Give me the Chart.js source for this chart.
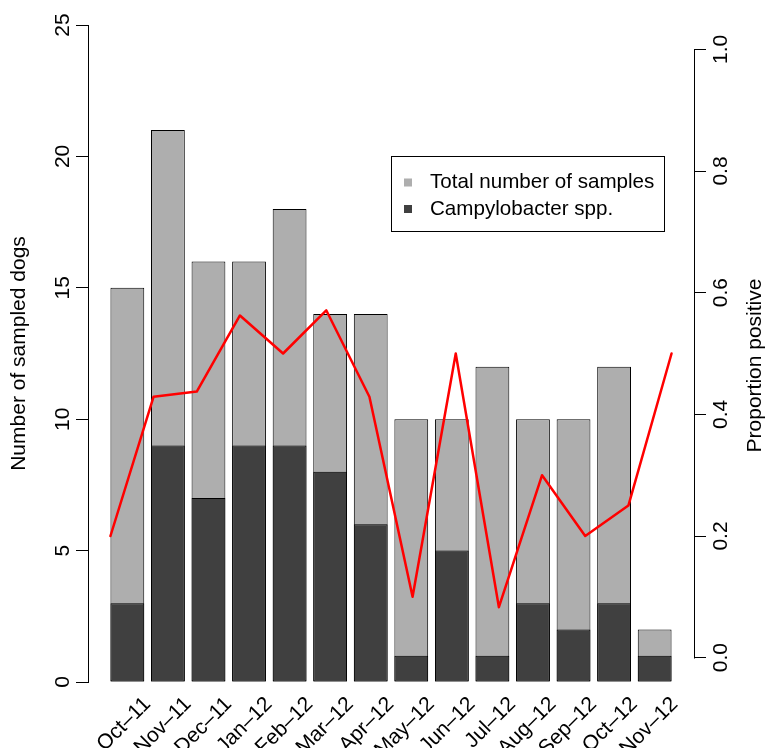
<!DOCTYPE html>
<html>
<head>
<meta charset="utf-8">
<script src="https://cdn.jsdelivr.net/npm/chart.js@4"></script>
<style>
html,body{margin:0;padding:0;background:#ffffff;}
#wrap{width:768px;height:748px;}
</style>
</head>
<body>
<div id="wrap"><canvas id="c" width="768" height="748"></canvas></div>
<script>
// ---- data ----
const months = ['Oct–11','Nov–11','Dec–11','Jan–12','Feb–12','Mar–12','Apr–12','May–12','Jun–12','Jul–12','Aug–12','Sep–12','Oct–12','Nov–12'];
const totalSamples = [15, 21, 16, 16, 18, 14, 14, 10, 10, 12, 10, 10, 12, 2];
const campylobacter = [3, 9, 7, 9, 9, 8, 6, 1, 5, 1, 3, 2, 3, 1];
const proportionPositive = [0.2, 0.429, 0.4375, 0.5625, 0.5, 0.571, 0.429, 0.1, 0.5, 0.083, 0.3, 0.2, 0.25, 0.5];
const leftTicks = [0, 5, 10, 15, 20, 25];
const rightTicks = [0, 0.2, 0.4, 0.6, 0.8, 1.0];
const seriesNames = ['Total number of samples', 'Campylobacter spp.'];
const leftTitle = 'Number of sampled dogs';
const rightTitle = 'Proportion positive';

// ---- styling ----
const FONT = "'Liberation Sans', Arial, Helvetica, sans-serif";
const LIGHT = '#AEAEAE';
const DARK = '#404040';
Chart.defaults.font.family = FONT;
Chart.defaults.font.size = 21;
Chart.defaults.color = '#000000';

const monthIndex = months.map((m, i) => i + 1);
const toXY = arr => arr.map((v, i) => ({x: monthIndex[i], y: v}));

const extrasPlugin = {
  id: 'extras',
  afterDraw(chart) {
    const {ctx, scales, chartArea} = chart;
    // right axis line spanning only 0..1
    const s = scales.y2;
    const ax = Math.round(s.left) + 0.5;
    ctx.save();
    ctx.strokeStyle = '#000';
    ctx.lineWidth = 1;
    ctx.beginPath();
    ctx.moveTo(ax, Math.round(s.getPixelForValue(0)) + 0.5);
    ctx.lineTo(ax, Math.round(s.getPixelForValue(1)) + 0.5);
    ctx.stroke();
    // right axis title (reads bottom to top)
    ctx.font = '21px ' + FONT;
    ctx.fillStyle = '#000';
    ctx.textAlign = 'center';
    ctx.textBaseline = 'middle';
    ctx.translate(chart.width - 13, (chartArea.top + chartArea.bottom) / 2 + 12);
    ctx.rotate(-Math.PI / 2);
    ctx.fillText(rightTitle, 0, 0);
    ctx.restore();

    // legend box
    const ds = chart.data.datasets;
    const items = [ds[2], ds[1]];
    ctx.save();
    ctx.font = '20.6px ' + FONT;
    const textW = Math.max(...items.map(d => ctx.measureText(d.label).width));
    const x0 = Math.round(scales.x.getPixelForValue(7.5)) + 0.5;
    const y0 = Math.round(scales.y.getPixelForValue(20)) + 0.5;
    const w = Math.round(38.5 + textW + 10);
    const h = 75;
    ctx.fillStyle = '#fff';
    ctx.fillRect(x0, y0, w, h);
    ctx.strokeStyle = '#000';
    ctx.lineWidth = 1;
    ctx.strokeRect(x0, y0, w, h);
    ctx.textAlign = 'left';
    ctx.textBaseline = 'middle';
    items.forEach((d, i) => {
      const cy = y0 + 26 + i * 26.5;
      ctx.fillStyle = d.backgroundColor;
      ctx.fillRect(x0 + 12.5, cy - 4, 8, 8);
      ctx.fillStyle = '#000';
      ctx.fillText(d.label, x0 + 38.5, cy);
    });
    ctx.restore();
  }
};

new Chart(document.getElementById('c'), {
  type: 'bar',
  data: {
    datasets: [
      {
        type: 'line',
        label: rightTitle,
        data: toXY(proportionPositive),
        xAxisID: 'x2',
        yAxisID: 'y2',
        borderColor: '#FF0000',
        borderWidth: 2.5,
        borderJoinStyle: 'round',
        borderCapStyle: 'round',
        pointRadius: 0,
        tension: 0,
        fill: false,
        order: 0
      },
      {
        type: 'bar',
        label: seriesNames[1],
        data: toXY(campylobacter),
        xAxisID: 'x',
        yAxisID: 'y',
        backgroundColor: DARK,
        borderColor: '#000000',
        borderWidth: 1,
        borderSkipped: false,
        grouped: false,
        barPercentage: 1 / 1.2,
        categoryPercentage: 1,
        order: 1
      },
      {
        type: 'bar',
        label: seriesNames[0],
        data: toXY(totalSamples),
        xAxisID: 'x',
        yAxisID: 'y',
        backgroundColor: LIGHT,
        borderColor: '#000000',
        borderWidth: 1,
        borderSkipped: false,
        grouped: false,
        barPercentage: 1 / 1.2,
        categoryPercentage: 1,
        order: 2
      }
    ]
  },
  options: {
    responsive: false,
    devicePixelRatio: 1,
    animation: false,
    events: [],
    layout: {padding: {top: 25, left: 0, right: 0, bottom: 0}},
    plugins: {legend: {display: false}, tooltip: {enabled: false}},
    scales: {
      x: {
        type: 'linear',
        position: 'bottom',
        min: 0.03,
        max: 14.97,
        offset: false,
        afterBuildTicks: s => { s.ticks = monthIndex.map(v => ({value: v})); },
        afterFit: s => { s.height = 66; },
        grid: {display: false, drawTicks: false},
        border: {display: false},
        ticks: {
          autoSkip: false,
          minRotation: 45,
          maxRotation: 45,
          labelOffset: 20,
          padding: 10,
          callback: (v, i) => months[i]
        }
      },
      x2: {
        type: 'linear',
        display: false,
        min: 0.48,
        max: 14.52,
        offset: false
      },
      y: {
        type: 'linear',
        position: 'left',
        min: 0,
        max: 25,
        afterBuildTicks: s => { s.ticks = leftTicks.map(v => ({value: v})); },
        afterFit: s => { s.width = 88; },
        grid: {drawOnChartArea: false, drawTicks: true, tickLength: 12, color: '#000', lineWidth: 1},
        border: {display: true, color: '#000', width: 1},
        ticks: {minRotation: 90, maxRotation: 90, crossAlign: 'center', padding: 1},
        title: {display: true, text: leftTitle, padding: {top: 7, bottom: 0}}
      },
      y2: {
        type: 'linear',
        position: 'right',
        min: -0.04,
        max: 1.04,
        afterBuildTicks: s => { s.ticks = rightTicks.map(v => ({value: v})); },
        afterFit: s => { s.width = 74; },
        grid: {drawOnChartArea: false, drawTicks: true, tickLength: 12, color: '#000', lineWidth: 1},
        border: {display: false},
        ticks: {minRotation: 90, maxRotation: 90, crossAlign: 'center', padding: 1, callback: v => v.toFixed(1)}
      }
    }
  },
  plugins: [extrasPlugin]
});
</script>
</body>
</html>
